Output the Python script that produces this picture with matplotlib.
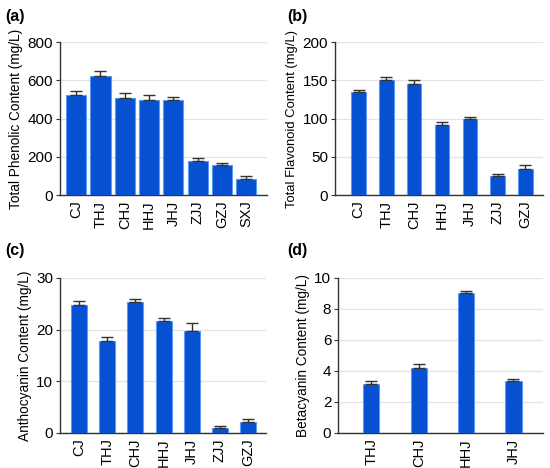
import matplotlib
matplotlib.use("Agg")
import matplotlib.pyplot as plt
import numpy as np

plt.rcParams['font.family'] = ['Liberation Sans', 'DejaVu Sans']

# Panel (a)
cats_a = ["CJ", "THJ", "CHJ", "HHJ", "JHJ", "ZJJ", "GZJ", "SXJ"]
vals_a = [525, 622, 507, 497, 495, 178, 157, 87]
errs_a = [22, 25, 28, 28, 20, 15, 12, 12]
# Panel (b)
cats_b = ["CJ", "THJ", "CHJ", "HHJ", "JHJ", "ZJJ", "GZJ"]
vals_b = [135, 151, 145, 92, 100, 25, 34]
errs_b = [3, 3, 5, 3, 2.5, 2, 6]
# Panel (c)
cats_c = ["CJ", "THJ", "CHJ", "HHJ", "JHJ", "ZJJ", "GZJ"]
vals_c = [24.8, 17.8, 25.3, 21.7, 19.8, 0.9, 2.1]
errs_c = [0.7, 0.8, 0.6, 0.6, 1.4, 0.4, 0.6]
# Panel (d)
cats_d = ["THJ", "CHJ", "HHJ", "JHJ"]
vals_d = [3.15, 4.2, 9.05, 3.35]
errs_d = [0.22, 0.25, 0.1, 0.15]

fig = plt.figure(figsize=(5.5, 4.68), dpi=100)

BAR = "#0650d2"
EDGE = "#5c9af0"

panels = [
    (cats_a, vals_a, errs_a, [0.109, 0.583, 0.376, 0.327], 0.83, (-0.67, 7.85), (0, 800), [0, 200, 400, 600, 800], "Total Phenolic Content (mg/L)", 9.8, "(a)", (5, 16)),
    (cats_b, vals_b, errs_b, [0.609, 0.583, 0.378, 0.327], 0.52, (-0.85, 6.63), (0, 200), [0, 50, 100, 150, 200], "Total Flavonoid Content (mg/L)", 9.4, "(b)", (287, 16)),
    (cats_c, vals_c, errs_c, [0.109, 0.075, 0.375, 0.331], 0.57, (-0.68, 6.64), (0, 30), [0, 10, 20, 30], "Anthocyanin Content (mg/L)", 9.8, "(c)", (5, 250)),
    (cats_d, vals_d, errs_d, [0.615, 0.075, 0.372, 0.331], 0.34, (-0.70, 3.62), (0, 10), [0, 2, 4, 6, 8, 10], "Betacyanin Content (mg/L)", 9.8, "(d)", (287, 250)),
]

for cats, vals, errs, pos, w, xl, yl, yt, ylab, yfs, tag, tpos in panels:
    ax = fig.add_axes(pos)
    x = np.arange(len(cats))
    ax.bar(x, vals, width=w, color=BAR, edgecolor=EDGE, linewidth=0.8, zorder=3)
    ax.errorbar(x, vals, yerr=[np.zeros(len(errs)), errs], fmt='none',
                ecolor="#333333", elinewidth=1.0, capsize=4, capthick=1.0, zorder=4)
    ax.set_xlim(*xl)
    ax.set_ylim(*yl)
    ax.set_yticks(yt)
    ax.set_xticks(x)
    ax.set_xticklabels(cats, rotation=90)
    ax.yaxis.grid(True, color="#e3e3e3", linewidth=0.9, zorder=0)
    ax.set_axisbelow(True)
    for s in ["top", "right"]:
        ax.spines[s].set_visible(False)
    for s in ["left", "bottom"]:
        ax.spines[s].set_color("#333333")
        ax.spines[s].set_linewidth(1.0)
    ax.tick_params(axis='y', length=3, width=0.8, color="#333333", labelsize=11, pad=2)
    ax.tick_params(axis='x', length=0, labelsize=10.5, pad=4)
    ax.set_ylabel(ylab, fontsize=yfs, labelpad=3)
    fig.text(tpos[0] / 550, 1 - tpos[1] / 468, tag, fontsize=11.5, fontweight='bold',
             ha='left', va='center')

fig.savefig("out.png", dpi=100)
